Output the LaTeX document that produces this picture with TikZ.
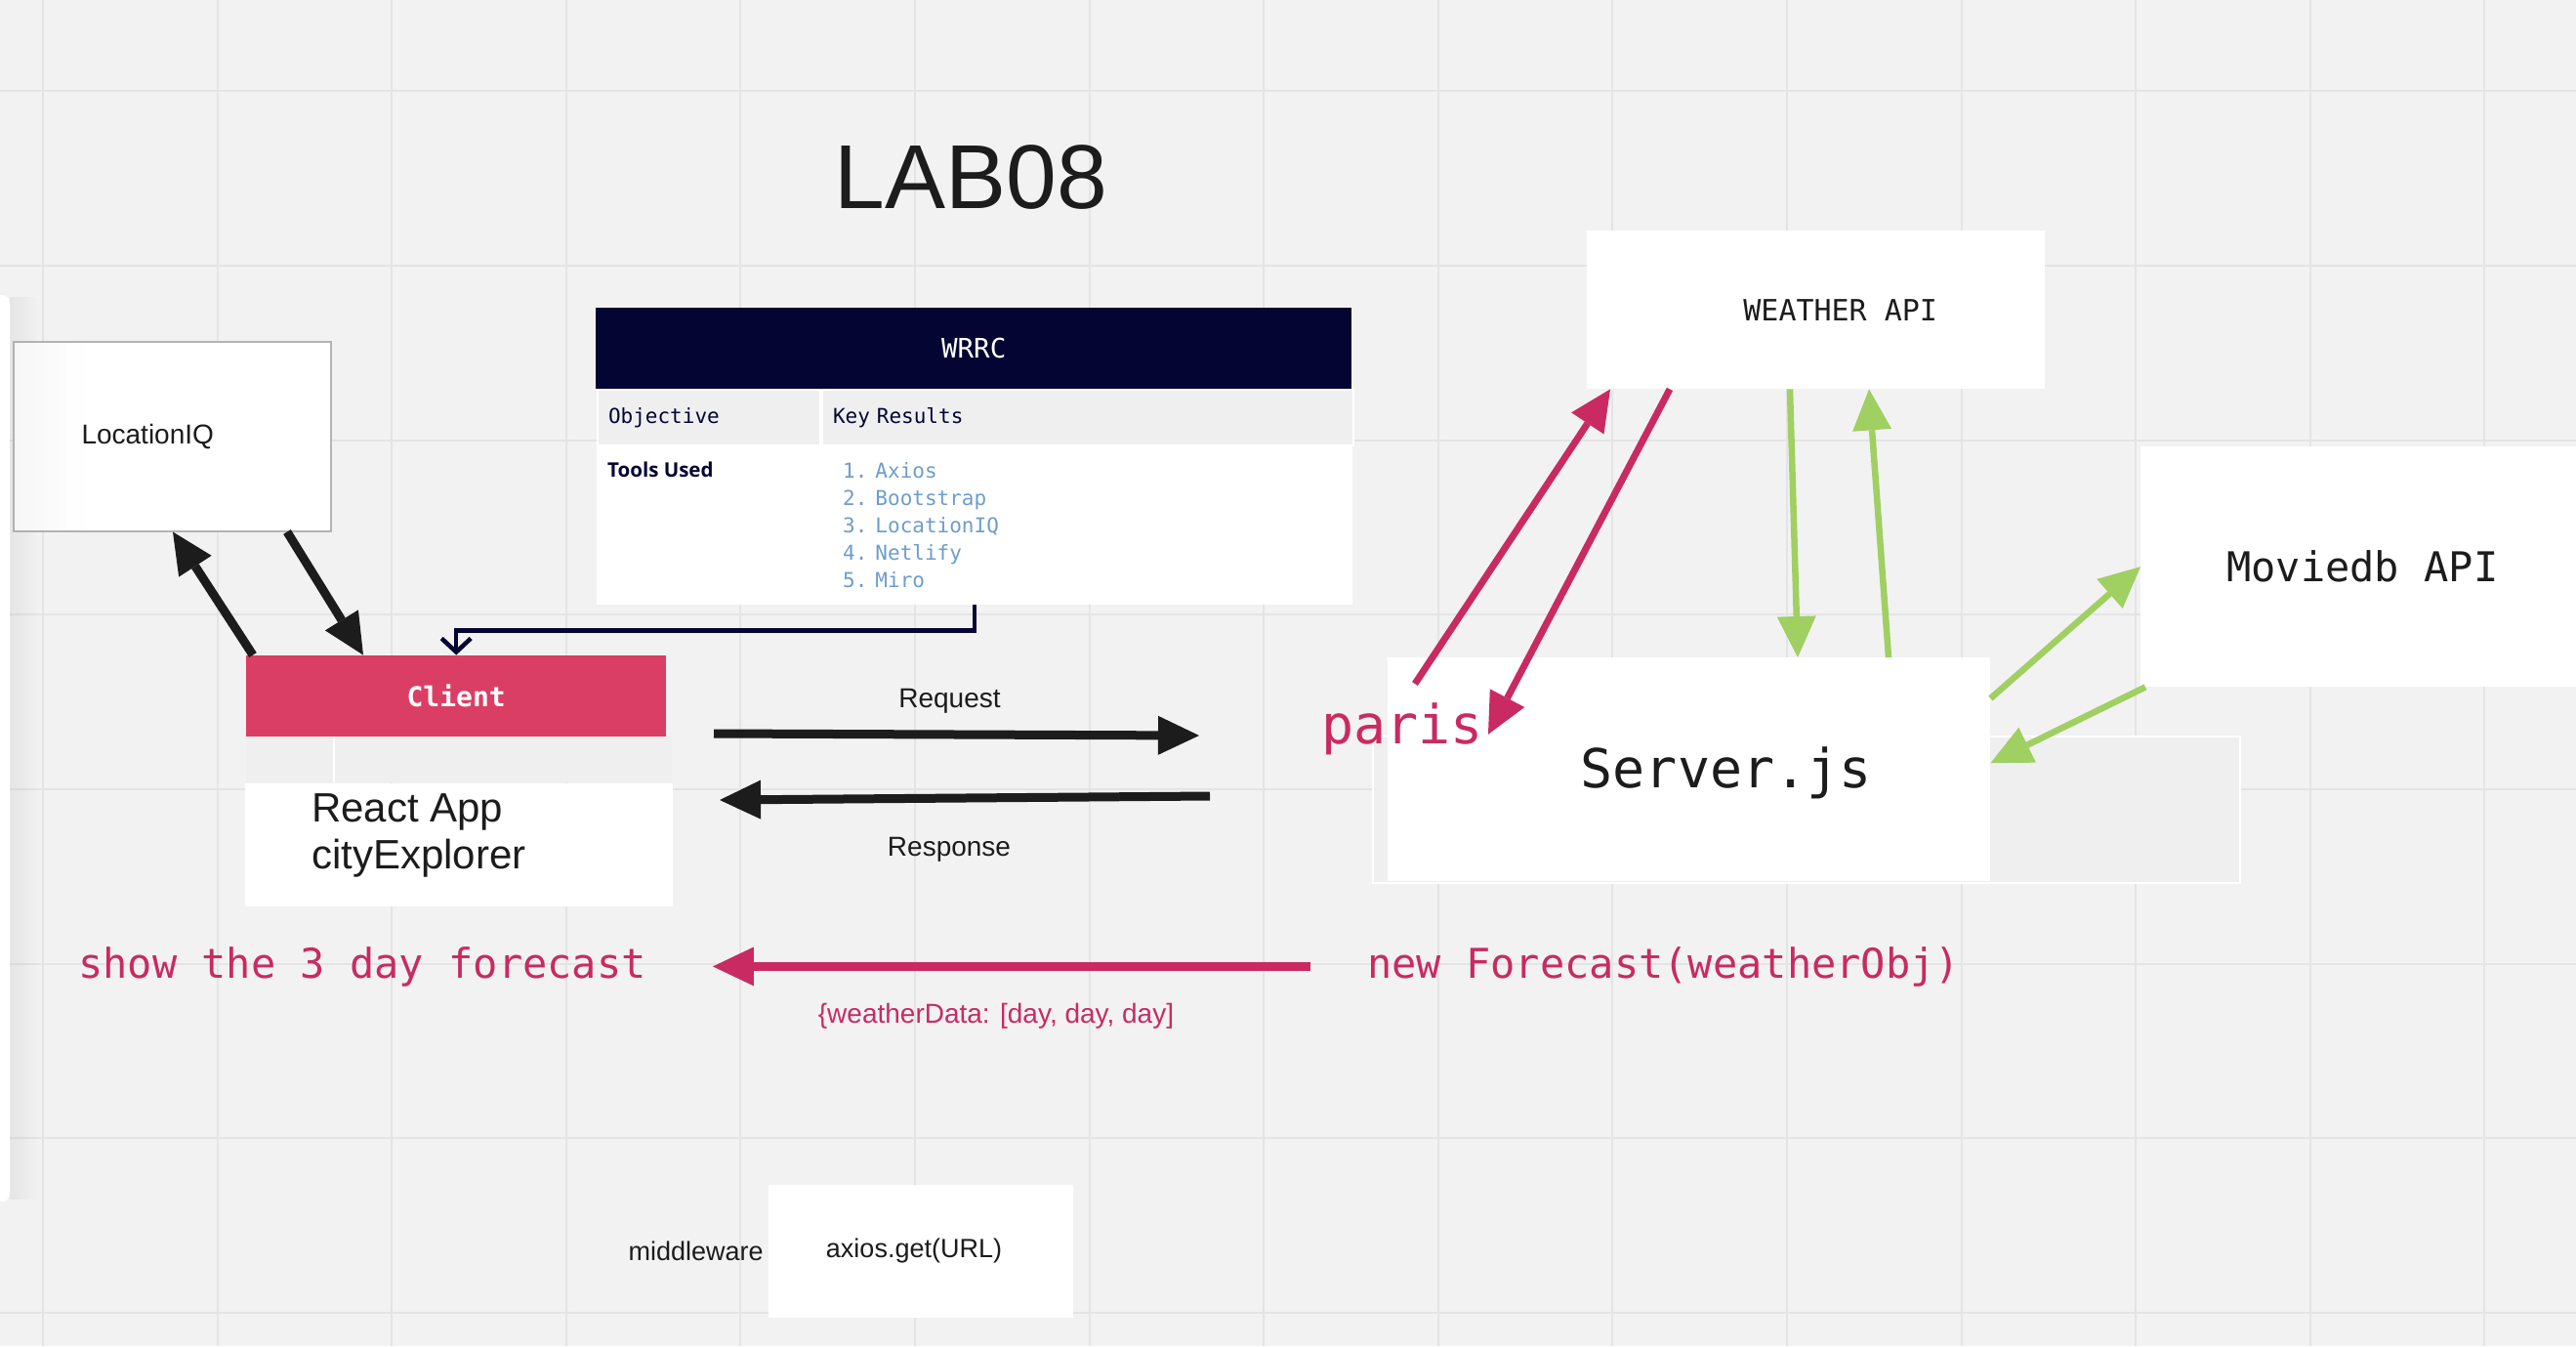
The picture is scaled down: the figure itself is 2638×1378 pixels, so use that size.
\documentclass[tikz,border=0pt]{standalone}
\usepackage{fontspec}
\setmainfont{Liberation Sans}
\setmonofont{DejaVu Sans Mono}
\newfontfamily\toolsfont{Open Sans}
\usetikzlibrary{arrows.meta,positioning,calc}
\definecolor{bgCol}{HTML}{F2F2F2}
\definecolor{gridCol}{HTML}{E4E4E4}
\definecolor{navyCol}{HTML}{050533}
\definecolor{clientCol}{HTML}{DB3E64}
\definecolor{parisCol}{HTML}{C92A62}
\definecolor{apiGreen}{HTML}{A0CF62}
\definecolor{listCol}{HTML}{6E9DCB}
\definecolor{rowCol}{HTML}{F0EFF0}
\definecolor{inkCol}{HTML}{1C1C1C}
\definecolor{edgeCol}{HTML}{B4B4B4}
\newcommand{\fsz}[2]{\fontsize{#1pt}{#2pt}\selectfont}
\tikzset{
  box/.style={fill=white,inner sep=0pt,anchor=north west},
  cell/.style={box,fill=rowCol,draw=white,line width=2pt,minimum height=57pt,
               inner xsep=11pt,align=left,font=\ttfamily\fsz{21}{24},text=navyCol},
  listitem/.style={anchor=base west,font=\ttfamily\fsz{21}{24},text=listCol},
  fat/.style={-{Triangle[length=42pt,width=40pt,line width=0pt]}},
  blkarrow/.style={fat,draw=inkCol,line width=9pt},
  redarrow/.style={fat,draw=parisCol,line width=7pt},
  grnarrow/.style={fat,draw=apiGreen,line width=6.5pt},
  navyln/.style={draw=navyCol,line width=4.5pt,-{Straight Barb[length=14pt,width=30pt]}},
  gridln/.style={draw=gridCol,line width=2pt},
}

\begin{document}
\begin{tikzpicture}[x=1pt,y=-1pt,
    every node/.style={inner sep=0pt},
    sans/.style={font=\fsz{28}{32},text=inkCol},
    mono/.style={font=\ttfamily\fsz{42}{46}}]
    % --- canvas and grid ---
    \fill[bgCol] (0,0) rectangle (2638,1378);
    \useasboundingbox (0,0) rectangle (2638,1378);
    \foreach \i in {0,...,14} \draw[gridln] ({44+178.6*\i},0) -- ++(0,1378);
    \foreach \j in {0,...,7} \draw[gridln] (0,{93.5+178.6*\j}) -- ++(2638,0);
    % side panel and its shadow
    \foreach \k in {0,...,9}
      \fill[black,opacity={0.05*(1-\k/10)}] ({10+3*\k},304) rectangle ++(3,924);
    \fill[white,rounded corners=8pt] (-20,302) rectangle (10,1230);
    \node[font=\fsz{93}{100},text=inkCol] (title) at (994.5,181.5) {LAB08};
    % --- LocationIQ ---
    \node[box,draw=edgeCol,line width=1.5pt,minimum width=325pt,minimum height=194pt,sans]
          (locq) at (13,349) {LocationIQ\hspace*{50pt}};
    \foreach \k in {0,...,11}
      \fill[black,opacity={0.035*(1-\k/12)}] ([xshift={1pt+6pt*\k},yshift=-1pt]locq.north west)
        rectangle ([xshift={7pt+6pt*\k},yshift=1pt]locq.south west);
    % --- WRRC table ---
    \node[box,fill=navyCol,minimum width=774pt,minimum height=83pt,
          font=\ttfamily\fsz{27.5}{32},text=white] (wrrc) at (610,315) {WRRC};
    \node[cell,text width=206pt] (objcell) at (611,398) {Objective};
    \node[cell,text width=522pt,right=0pt of objcell] (krcell) {Key Results};
    \node[box,minimum width=774pt,minimum height=162pt] (toolcell) at (objcell.south west) {};
    \node[anchor=base west,font=\toolsfont\bfseries\fsz{20.5}{24},text=navyCol]
          (toolsused) at ($(toolcell.north west)+(11,31)$) {Tools Used};
    \foreach \t [count=\i] in {Axios,Bootstrap,LocationIQ,Netlify,Miro}
      \node[listitem] (tool\i) at ($(toolcell.north west)+(252,{32+28.2*(\i-1)})$)
            {\i.\hspace{8pt}\t};
    % --- Client ---
    \node[box,fill=clientCol,minimum width=430pt,minimum height=83pt,
          font=\ttfamily\bfseries\fsz{28}{32},text=white] (client) at (252,670.6) {Client};
    \node[box,fill=rowCol,minimum width=436pt,minimum height=47pt] (clientrow) at (client.south west) {};
    \draw[white,line width=2pt] ([xshift=90pt]clientrow.north west) -- ([xshift=90pt]clientrow.south west);
    \node[box,minimum width=438pt,minimum height=126pt] (clientbody) at ([xshift=-1pt]clientrow.south west) {};
    \node[anchor=north west,align=left,font=\fsz{42}{48},text=inkCol]
          (apptxt) at ($(clientbody.north west)+(68,11)$) {React App\\cityExplorer};
    \draw[navyln] (toolcell.south) -- ++(0,26) -| (client.north);
    \draw[blkarrow] ([xshift=7pt]client.north west) -- ([xshift=164pt]locq.south west);
    \draw[blkarrow] ([xshift=281pt]locq.south west) -- ([xshift=120pt]client.north west);
    % --- request / response ---
    \coordinate (reqL) at (731,751);
    \coordinate (reqR) at (1228,753);
    \coordinate (resR) at (1239,815);
    \coordinate (resL) at (737,819);
    \draw[blkarrow] (reqL) -- node[above=17pt,xshift=-7pt,sans] (reqlab) {Request} (reqR);
    \draw[blkarrow] (resR) -- node[below=36pt,xshift=-16pt,sans] (reslab) {Response} (resL);
    % --- server side ---
    \node[box,fill=rowCol,draw=white,line width=2pt,minimum width=888pt,minimum height=150pt]
          (srvframe) at (1405,753) {};
    \node[box,minimum width=617pt,minimum height=229pt,text height=42pt,text depth=4pt,
          font=\ttfamily\fsz{55}{60},text=inkCol]
          (server) at (1421,673) {\hspace*{76pt}Server.js};
    \node[box,minimum width=469pt,minimum height=162pt,font=\ttfamily\fsz{30}{34},text=inkCol]
          (weather) at (1625,236) {\hspace*{50pt}WEATHER API};
    \node[box,minimum width=454pt,minimum height=246pt,mono,text=inkCol]
          (moviedb) at (2192,457) {Moviedb API};
    \node[anchor=base west,font=\ttfamily\fsz{55}{60},text=parisCol] (paris) at (1353,761) {paris};
    \draw[redarrow] ([xshift=13pt,yshift=19pt]paris.north) -- ([xshift=24pt]weather.south west);
    \draw[redarrow] ([xshift=85pt]weather.south west) -- ([xshift=5pt,yshift=-6pt]paris.east);
    \draw[grnarrow] ([xshift=208pt]weather.south west) -- ([xshift=420pt]server.north west);
    \draw[grnarrow] ([xshift=513pt]server.north west) -- ([xshift=289pt]weather.south west);
    \draw[grnarrow] ([yshift=-42pt]server.north east) -- (moviedb.west);
    \draw[grnarrow] ([xshift=5pt]moviedb.south west) -- ([yshift=6.5pt]server.east);
    % --- forecast row ---
    \node[anchor=base west,mono,text=parisCol] (showfc) at (80,1001) {show the 3 day forecast};
    \node[anchor=base west,mono,text=parisCol] (newfc) at (1400,1001) {new Forecast(weatherObj)};
    \draw[redarrow,line width=9.3pt,shorten <=58pt,shorten >=68pt] (newfc.west) --
      node[below=33pt,xshift=-11pt,sans,text=parisCol] (wdata) {\{weatherData: [day, day, day]} (showfc.east);
    % --- middleware ---
    \node[box,anchor=center,minimum width=312pt,minimum height=136pt,font=\fsz{27}{32},text=inkCol]
          (axiosbox) at (943,1281) {axios.get(URL)\hspace*{14pt}};
    \node[left=5pt of axiosbox,font=\fsz{27}{32},text=inkCol] (mware) {middleware};
\end{tikzpicture}
\end{document}
